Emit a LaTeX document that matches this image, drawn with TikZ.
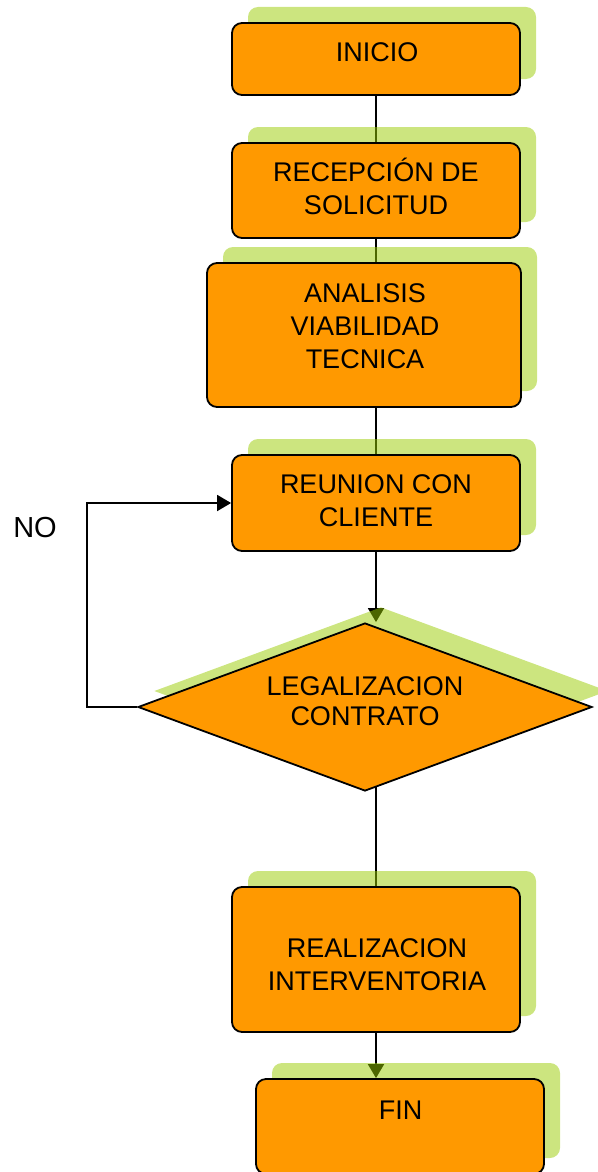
\documentclass[tikz,border=0pt]{standalone}
\usepackage{fontspec}
\setmainfont{Liberation Sans}
\usetikzlibrary{shapes.geometric,shadows,arrows.meta}
\definecolor{boxorange}{RGB}{255,153,0}
\definecolor{shadowgreen}{RGB}{153,204,0}
\pgfdeclarelayer{background}
\pgfsetlayers{background,main}
\tikzset{
  flowbox/.style={draw=black, line width=1.8pt, fill=boxorange, rounded corners=10pt,
    general shadow={shadow xshift=16pt, shadow yshift=16pt, fill=shadowgreen, draw=none, opacity=0.5},
    inner sep=0pt},
  decision/.style={draw=black, line width=1.8pt, fill=boxorange, diamond, inner sep=0pt,
    general shadow={shadow xshift=16pt, shadow yshift=16pt, fill=shadowgreen, draw=none, opacity=0.5}},
  label text/.style={align=center, inner sep=0pt, font=\fontsize{27}{33}\selectfont},
  conn/.style={draw=black, line width=1.8pt},
  arr/.style={conn, -{Triangle[length=14pt,width=16pt]}}
}
\begin{document}
\begin{tikzpicture}[x=1pt,y=-1pt]
\useasboundingbox (0,0) rectangle (597,1172);
\node[flowbox, minimum width=288pt, minimum height=72pt] (b1) at (376,59) {};
\node[flowbox, minimum width=288pt, minimum height=95pt] (b2) at (376,190.5) {};
\node[flowbox, minimum width=314pt, minimum height=144pt] (b3) at (364,335) {};
\node[flowbox, minimum width=288pt, minimum height=96pt] (b4) at (376,503) {};
\node[decision, minimum width=454pt, minimum height=168pt] (dia) at (365,707) {};
\node[flowbox, minimum width=288pt, minimum height=145pt] (b5) at (376,959.5) {};
\node[flowbox, minimum width=288pt, minimum height=95pt] (b6) at (400,1126.5) {};

\node[label text] (t1) at (377,52.5) {INICIO};
\node[label text] (t2) at (376,188.5) {RECEPCI\smash{Ó}N DE\\SOLICITUD};
\node[label text] (t3) at (365,326) {ANALISIS\\VIABILIDAD\\TECNICA};
\node[label text] (t4) at (376,500.5) {REUNION CON\\CLIENTE};
\node[label text, font=\fontsize{27}{30}\selectfont] (t5) at (365,701.5) {LEGALIZACION\\CONTRATO};
\node[label text] (t6) at (377,965) {REALIZACION\\INTERVENTORIA};
\node[label text] (t7) at (400.5,1110) {FIN};
\node[label text, font=\fontsize{29}{33}\selectfont] (no) at (35,528) {NO};

\begin{pgfonlayer}{background}
\draw[conn] (b1.south) -- (b2.north);
\draw[conn] (b2.south) -- (b2.south |- b3.north);
\draw[conn] (b2.south |- b3.south) -- (b4.north);
\draw[arr] (b4.south) -- (b4.south |- dia.north);
\draw[arr] (dia.west) -- ++(-50,0) |- (b4.west);
\draw[conn] (dia.center -| b5.north) -- (b5.north);
\draw[arr] (b5.south) -- (b5.south |- b6.north);
\end{pgfonlayer}
\end{tikzpicture}
\end{document}
